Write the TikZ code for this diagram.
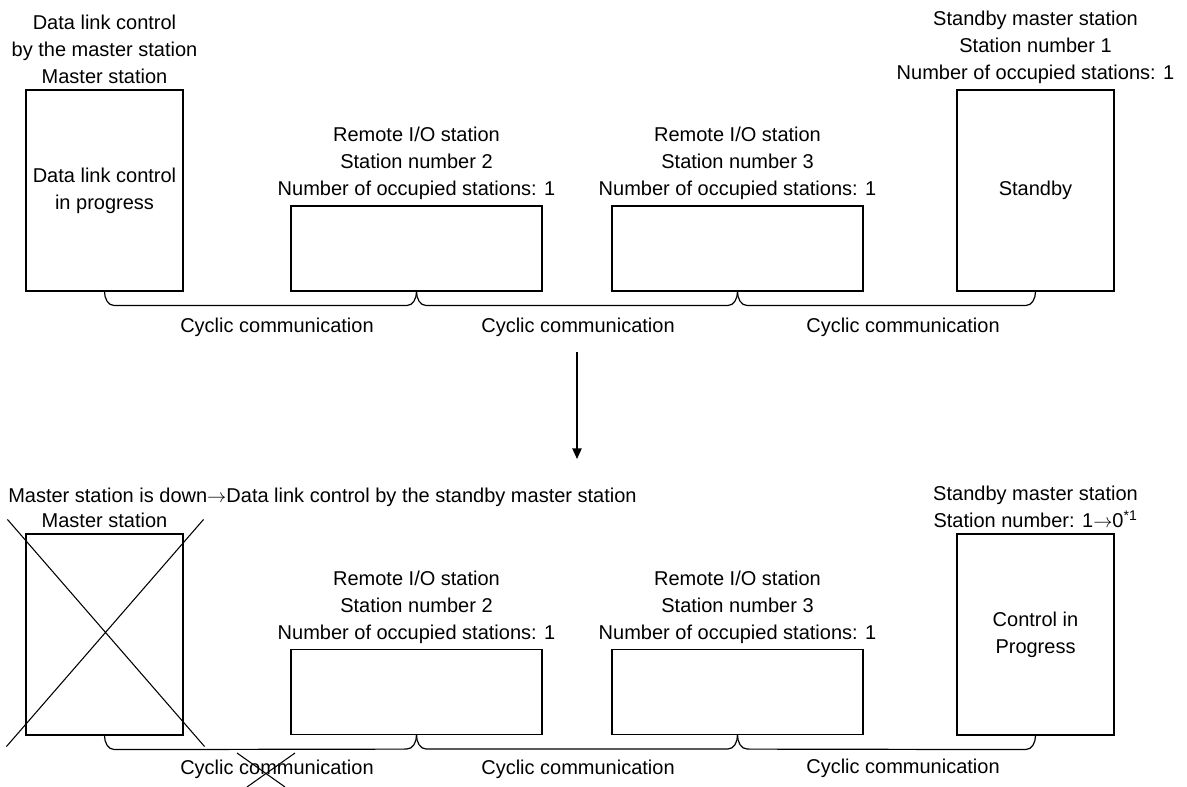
\documentclass[tikz,border=0pt]{standalone}
\usepackage{fontspec}
\setmainfont{Liberation Sans}
\usepackage{tikz}
\usetikzlibrary{calc}
\usetikzlibrary{positioning}
\usetikzlibrary{arrows.meta}
\tikzset{
    common/.style={draw, rectangle, line width=0.9pt, inner sep=0pt, align=center},
    tallbox/.style={common, minimum width=157*0.75pt, minimum height=201*0.75pt},
    widebox/.style={common, minimum width=251*0.75pt, minimum height=85*0.75pt},
    caption/.style={align=center, inner sep=0pt},
    linkline/.style={line width=0.9pt},
    cross/.style={line width=0.8pt},
    turn/.style={line width=1.1pt, -{Triangle[width=7pt, length=8pt]}}
}

\begin{document}
\begin{tikzpicture}[x=0.75pt, y=0.75pt, font=\fontsize{15pt}{20.25pt}\selectfont]
      \useasboundingbox (0,0) rectangle (1187,787);

      \newcommand\cycliclink[2]{
        \draw[linkline]
          (#1) to[out=-90, in=180] ++(10,-14)
          -- ($(#2)+(-10,-14)$) to[out=0, in=-90] (#2);
      }

      \path
          (104.5,596.5) node[tallbox] (master-a) {Data link control\\in progress}
          (416.5,538.5) node[widebox] (remote2-a) {}
          (737.5,538.5) node[widebox] (remote3-a) {}
          (1035.5,596.5) node[tallbox] (standby-a) {Standby};

      \node[caption, above=4pt of master-a] (master-a-cap) {Data link control\\by the master station\\Master station};
      \node[caption, above=4pt of remote2-a] (remote2-a-cap) {Remote I/O station\\Station number 2\\Number of occupied stations: 1};
      \node[caption, above=4pt of remote3-a] (remote3-a-cap) {Remote I/O station\\Station number 3\\Number of occupied stations: 1};
      \node[caption, above=4pt of standby-a] (standby-a-cap) {Standby master station\\Station number 1\\Number of occupied stations: 1};

      \cycliclink{master-a.south}{remote2-a.south}
      \cycliclink{remote2-a.south}{remote3-a.south}
      \cycliclink{remote3-a.south}{standby-a.south}

      \path
          (277,460) node (cyclic1-a) {Cyclic communication}
          (578,460) node (cyclic2-a) {Cyclic communication}
          (903,460) node (cyclic3-a) {Cyclic communication};

      \coordinate (turn-top) at (577,435);
      \coordinate (turn-bottom) at (577,328);
      \draw[turn] (turn-top) -- (turn-bottom);

      \node[anchor=west, inner sep=0pt] (down-note) at (8,290) {Master station is down$\rightarrow$Data link control by the standby master station};

      \path
          (104.5,152.5) node[tallbox] (master-b) {}
          (416.5,95) node[widebox] (remote2-b) {}
          (737.5,95) node[widebox] (remote3-b) {}
          (1035.5,152.5) node[tallbox] (standby-b) {Control in\\Progress};

      \node[caption, above=4pt of master-b] (master-b-cap) {Master station};
      \node[caption, above=4pt of remote2-b] (remote2-b-cap) {Remote I/O station\\Station number 2\\Number of occupied stations: 1};
      \node[caption, above=4pt of remote3-b] (remote3-b-cap) {Remote I/O station\\Station number 3\\Number of occupied stations: 1};
      \node[caption, above=4pt of standby-b] (standby-b-cap) {Standby master station\\Station number: 1$\rightarrow$0\textsuperscript{*1}};

      \cycliclink{master-b.south}{remote2-b.south}
      \cycliclink{remote2-b.south}{remote3-b.south}
      \cycliclink{remote3-b.south}{standby-b.south}

      \path
          (277,18) node (cyclic1-b) {Cyclic communication}
          (578,18) node (cyclic2-b) {Cyclic communication}
          (903,19) node (cyclic3-b) {Cyclic communication};

      \draw[cross]
          ($(master-b.north west)+(-18,14)$) -- ($(master-b.south east)+(21,-11)$)
          ($(master-b.north east)+(20,14)$) -- ($(master-b.south west)+(-19,-11)$);
      \draw[cross]
          ($(cyclic1-b)+(-40,16)$) -- ($(cyclic1-b)+(8,-18)$)
          ($(cyclic1-b)+(18,16)$) -- ($(cyclic1-b)+(-30,-18)$);
\end{tikzpicture}
\end{document}
